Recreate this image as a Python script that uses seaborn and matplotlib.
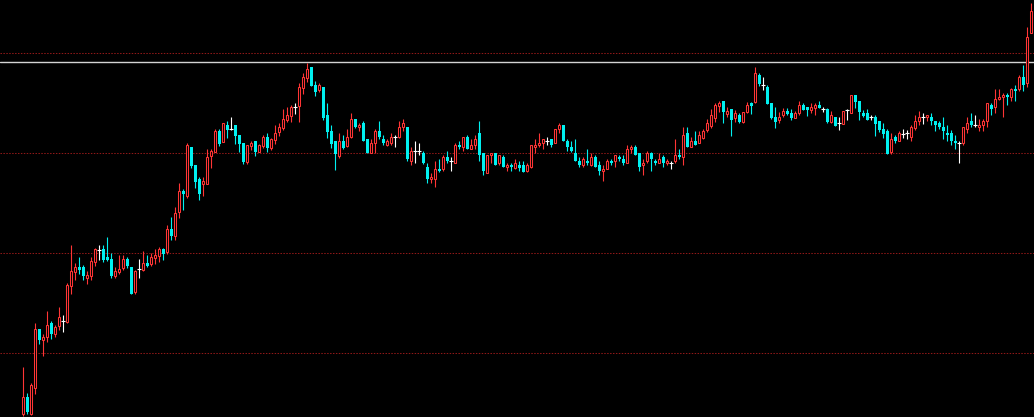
import numpy as np
import pandas as pd
import matplotlib
matplotlib.use("Agg")
import matplotlib.pyplot as plt
import seaborn as sns

opens = [3, 20, 3, 29, 88, 77, 80, 94, 83, 91,
         96, 95, 131, 145, 150, 150, 139, 141, 155, 167,
         168, 160, 158, 141, 145, 149, 158, 150, 125, 148,
         147, 154, 153, 159, 161, 168, 165, 188, 181, 205,
         226, 221, 270, 252, 238, 233, 233, 261, 265, 286,
         275, 292, 288, 292, 282, 274, 255, 271, 276, 265,
         271, 280, 269, 277, 285, 289, 297, 301, 310, 311,
         329, 339, 350, 332, 327, 330, 302, 286, 276, 261,
         276, 271, 280, 298, 290, 294, 278, 264, 274, 286,
         278, 272, 274, 280, 280, 290, 290, 256, 266, 266,
         264, 250, 238, 238, 248, 248, 260, 256, 254, 272,
         270, 280, 268, 272, 284, 264, 244, 262, 264, 254,
         260, 250, 252, 249, 252, 252, 246, 250, 270, 272,
         274, 276, 278, 274, 288, 292, 276, 270, 264, 256,
         252, 256, 252, 260, 252, 246, 248, 256, 256, 260,
         258, 254, 268, 270, 264, 252, 256, 264, 256, 254,
         260, 254, 254, 256, 262, 260, 284, 270, 276, 274,
         279, 287, 291, 299, 311, 316, 303, 308, 299, 302,
         295, 305, 314, 315, 342, 332, 330, 314, 300, 297,
         302, 306, 304, 299, 304, 312, 310, 307, 309, 312,
         308, 308, 295, 300, 294, 293, 307, 304, 322, 316,
         304, 304, 300, 300, 296, 288, 286, 265, 280, 276,
         283, 284, 280, 289, 296, 300, 300, 300, 296, 294,
         290, 284, 284, 276, 274, 274, 288, 296, 292, 290,
         292, 296, 312, 310, 318, 320, 322, 320, 328, 328,
         340, 334, 384]

closes = [20, 5, 32, 88, 77, 80, 92, 83, 90, 100,
          96, 132, 146, 150, 147, 141, 142, 156, 168, 167,
          157, 157, 141, 146, 148, 158, 151, 123, 146, 148,
          154, 151, 160, 162, 168, 163, 188, 181, 204, 226,
          223, 272, 251, 235, 223, 236, 260, 266, 286, 273,
          294, 287, 288, 281, 273, 255, 272, 274, 265, 272,
          280, 269, 278, 284, 290, 298, 302, 310, 310, 330,
          340, 348, 331, 325, 332, 299, 285, 273, 263, 276,
          269, 280, 298, 290, 292, 276, 264, 274, 286, 280,
          274, 276, 280, 280, 290, 294, 258, 266, 266, 266,
          254, 238, 240, 248, 246, 260, 256, 256, 272, 270,
          280, 268, 272, 278, 262, 246, 262, 264, 252, 262,
          250, 252, 250, 254, 249, 245, 252, 272, 272, 274,
          278, 276, 272, 288, 292, 276, 270, 266, 256, 252,
          258, 254, 260, 250, 246, 248, 256, 254, 262, 258,
          254, 268, 270, 262, 250, 254, 264, 258, 254, 258,
          254, 256, 254, 262, 260, 282, 270, 276, 272, 282,
          286, 294, 302, 312, 314, 305, 306, 297, 304, 295,
          305, 312, 311, 344, 333, 332, 313, 299, 295, 300,
          306, 303, 299, 304, 312, 307, 307, 310, 312, 309,
          308, 295, 302, 291, 294, 306, 307, 322, 315, 305,
          301, 297, 300, 293, 287, 283, 263, 278, 276, 284,
          283, 284, 290, 296, 300, 300, 302, 296, 292, 290,
          286, 282, 276, 274, 274, 290, 294, 292, 292, 292,
          296, 314, 308, 318, 320, 322, 320, 328, 326, 340,
          332, 380, 406]

highs = [50, 24, 34, 94, 88, 83, 106, 96, 92, 110,
         102, 134, 172, 154, 160, 152, 146, 160, 169, 172,
         172, 180, 164, 150, 162, 162, 160, 150, 147, 158,
         166, 162, 164, 168, 170, 169, 192, 200, 210, 234,
         228, 274, 270, 252, 240, 240, 268, 268, 288, 288,
         294, 296, 300, 292, 282, 274, 272, 276, 276, 273,
         282, 284, 279, 292, 294, 308, 310, 312, 314, 334,
         344, 354, 350, 336, 334, 330, 314, 292, 276, 284,
         282, 288, 304, 298, 294, 296, 278, 278, 288, 296,
         282, 278, 284, 282, 296, 298, 290, 270, 276, 274,
         266, 254, 244, 256, 258, 262, 266, 260, 274, 276,
         280, 282, 278, 282, 296, 264, 262, 264, 264, 262,
         262, 254, 254, 258, 256, 256, 254, 272, 278, 284,
         278, 280, 278, 288, 294, 292, 278, 276, 278, 260,
         260, 268, 264, 262, 256, 252, 258, 258, 262, 262,
         262, 272, 272, 272, 264, 258, 266, 265, 258, 264,
         262, 258, 256, 278, 268, 290, 290, 280, 286, 286,
         288, 298, 308, 314, 316, 316, 310, 308, 307, 304,
         305, 315, 315, 350, 344, 340, 332, 314, 310, 305,
         309, 309, 308, 306, 316, 314, 310, 314, 314, 316,
         310, 309, 306, 300, 300, 306, 308, 322, 322, 316,
         307, 308, 302, 302, 296, 294, 288, 284, 282, 286,
         288, 287, 292, 302, 306, 304, 302, 304, 296, 296,
         300, 292, 287, 282, 276, 290, 300, 304, 302, 298,
         298, 314, 314, 328, 328, 324, 324, 329, 332, 342,
         352, 390, 414]

lows = [1, 3, 2, 23, 73, 61, 75, 78, 80, 87,
        85, 94, 123, 137, 143, 137, 133, 137, 151, 157,
        155, 156, 139, 139, 143, 147, 149, 123, 123, 139,
        146, 150, 151, 153, 155, 157, 163, 177, 177, 199,
        207, 219, 249, 229, 217, 221, 233, 249, 265, 271,
        275, 279, 287, 273, 265, 253, 253, 267, 261, 265,
        269, 265, 267, 273, 281, 287, 295, 295, 303, 295,
        323, 335, 331, 321, 325, 297, 279, 269, 247, 259,
        268, 270, 279, 289, 286, 276, 264, 264, 264, 278,
        272, 271, 272, 270, 279, 286, 256, 252, 254, 262,
        253, 234, 234, 230, 245, 246, 254, 246, 254, 268,
        266, 268, 268, 268, 256, 242, 244, 254, 252, 252,
        250, 246, 246, 248, 246, 245, 245, 249, 264, 270,
        268, 272, 270, 274, 284, 276, 266, 265, 256, 250,
        250, 252, 251, 250, 242, 236, 248, 252, 250, 256,
        252, 254, 264, 262, 246, 242, 254, 246, 252, 254,
        250, 252, 248, 254, 258, 252, 270, 270, 272, 274,
        278, 285, 289, 295, 305, 294, 300, 281, 295, 294,
        294, 304, 303, 314, 331, 327, 313, 298, 289, 294,
        300, 302, 297, 299, 302, 307, 301, 304, 302, 309,
        305, 294, 294, 291, 287, 293, 297, 304, 309, 297,
        300, 297, 297, 281, 285, 279, 263, 263, 274, 276,
        279, 278, 276, 287, 292, 293, 296, 292, 286, 288,
        278, 276, 272, 268, 254, 272, 284, 290, 290, 286,
        286, 290, 302, 304, 317, 300, 312, 316, 316, 326,
        326, 330, 384]

grid_levels = [64, 164, 264, 364]
reference_level = 355

RED = "#ff3535"
CYAN = "#00f0f0"
GRID = "#901818"

df = pd.DataFrame({"open": opens, "close": closes, "high": highs, "low": lows})
df["idx"] = np.arange(len(df))
up = df[df["close"] > df["open"]]
down = df[df["close"] < df["open"]]
doji = df[df["close"] == df["open"]]

sns.set_theme(style="dark", rc={"axes.facecolor": "black", "figure.facecolor": "black"})

fig = plt.figure(figsize=(10.34, 4.17), dpi=100)
ax = fig.add_axes([0, 0, 1, 1])
ax.set_facecolor("black")

for g in grid_levels:
    ax.axhline(g, color=GRID, lw=0.75, ls=(0, (1.4, 1.4)), zorder=0)
ax.axhline(reference_level, color="#d4d4d4", lw=1.0, zorder=1)

ax.vlines(up["idx"], up["low"], up["high"], color=RED, lw=0.8, zorder=2)
ax.vlines(down["idx"], down["low"], down["high"], color=CYAN, lw=0.8, zorder=2)
ax.vlines(doji["idx"], doji["low"], doji["high"], color="white", lw=0.8, zorder=2)

ax.bar(up["idx"], up["close"] - up["open"], bottom=up["open"], width=0.5,
       facecolor="black", edgecolor=RED, linewidth=0.75, zorder=3)
ax.bar(down["idx"], down["open"] - down["close"], bottom=down["close"], width=0.75,
       color=CYAN, linewidth=0, zorder=3)
ax.hlines(doji["close"], doji["idx"] - 0.4, doji["idx"] + 0.4, color="white", lw=0.8, zorder=3)

ax.set_xlim(-5.75, 252.75)
ax.set_ylim(0, 417)
ax.axis("off")

fig.savefig("out.png", dpi=100, facecolor="black")
